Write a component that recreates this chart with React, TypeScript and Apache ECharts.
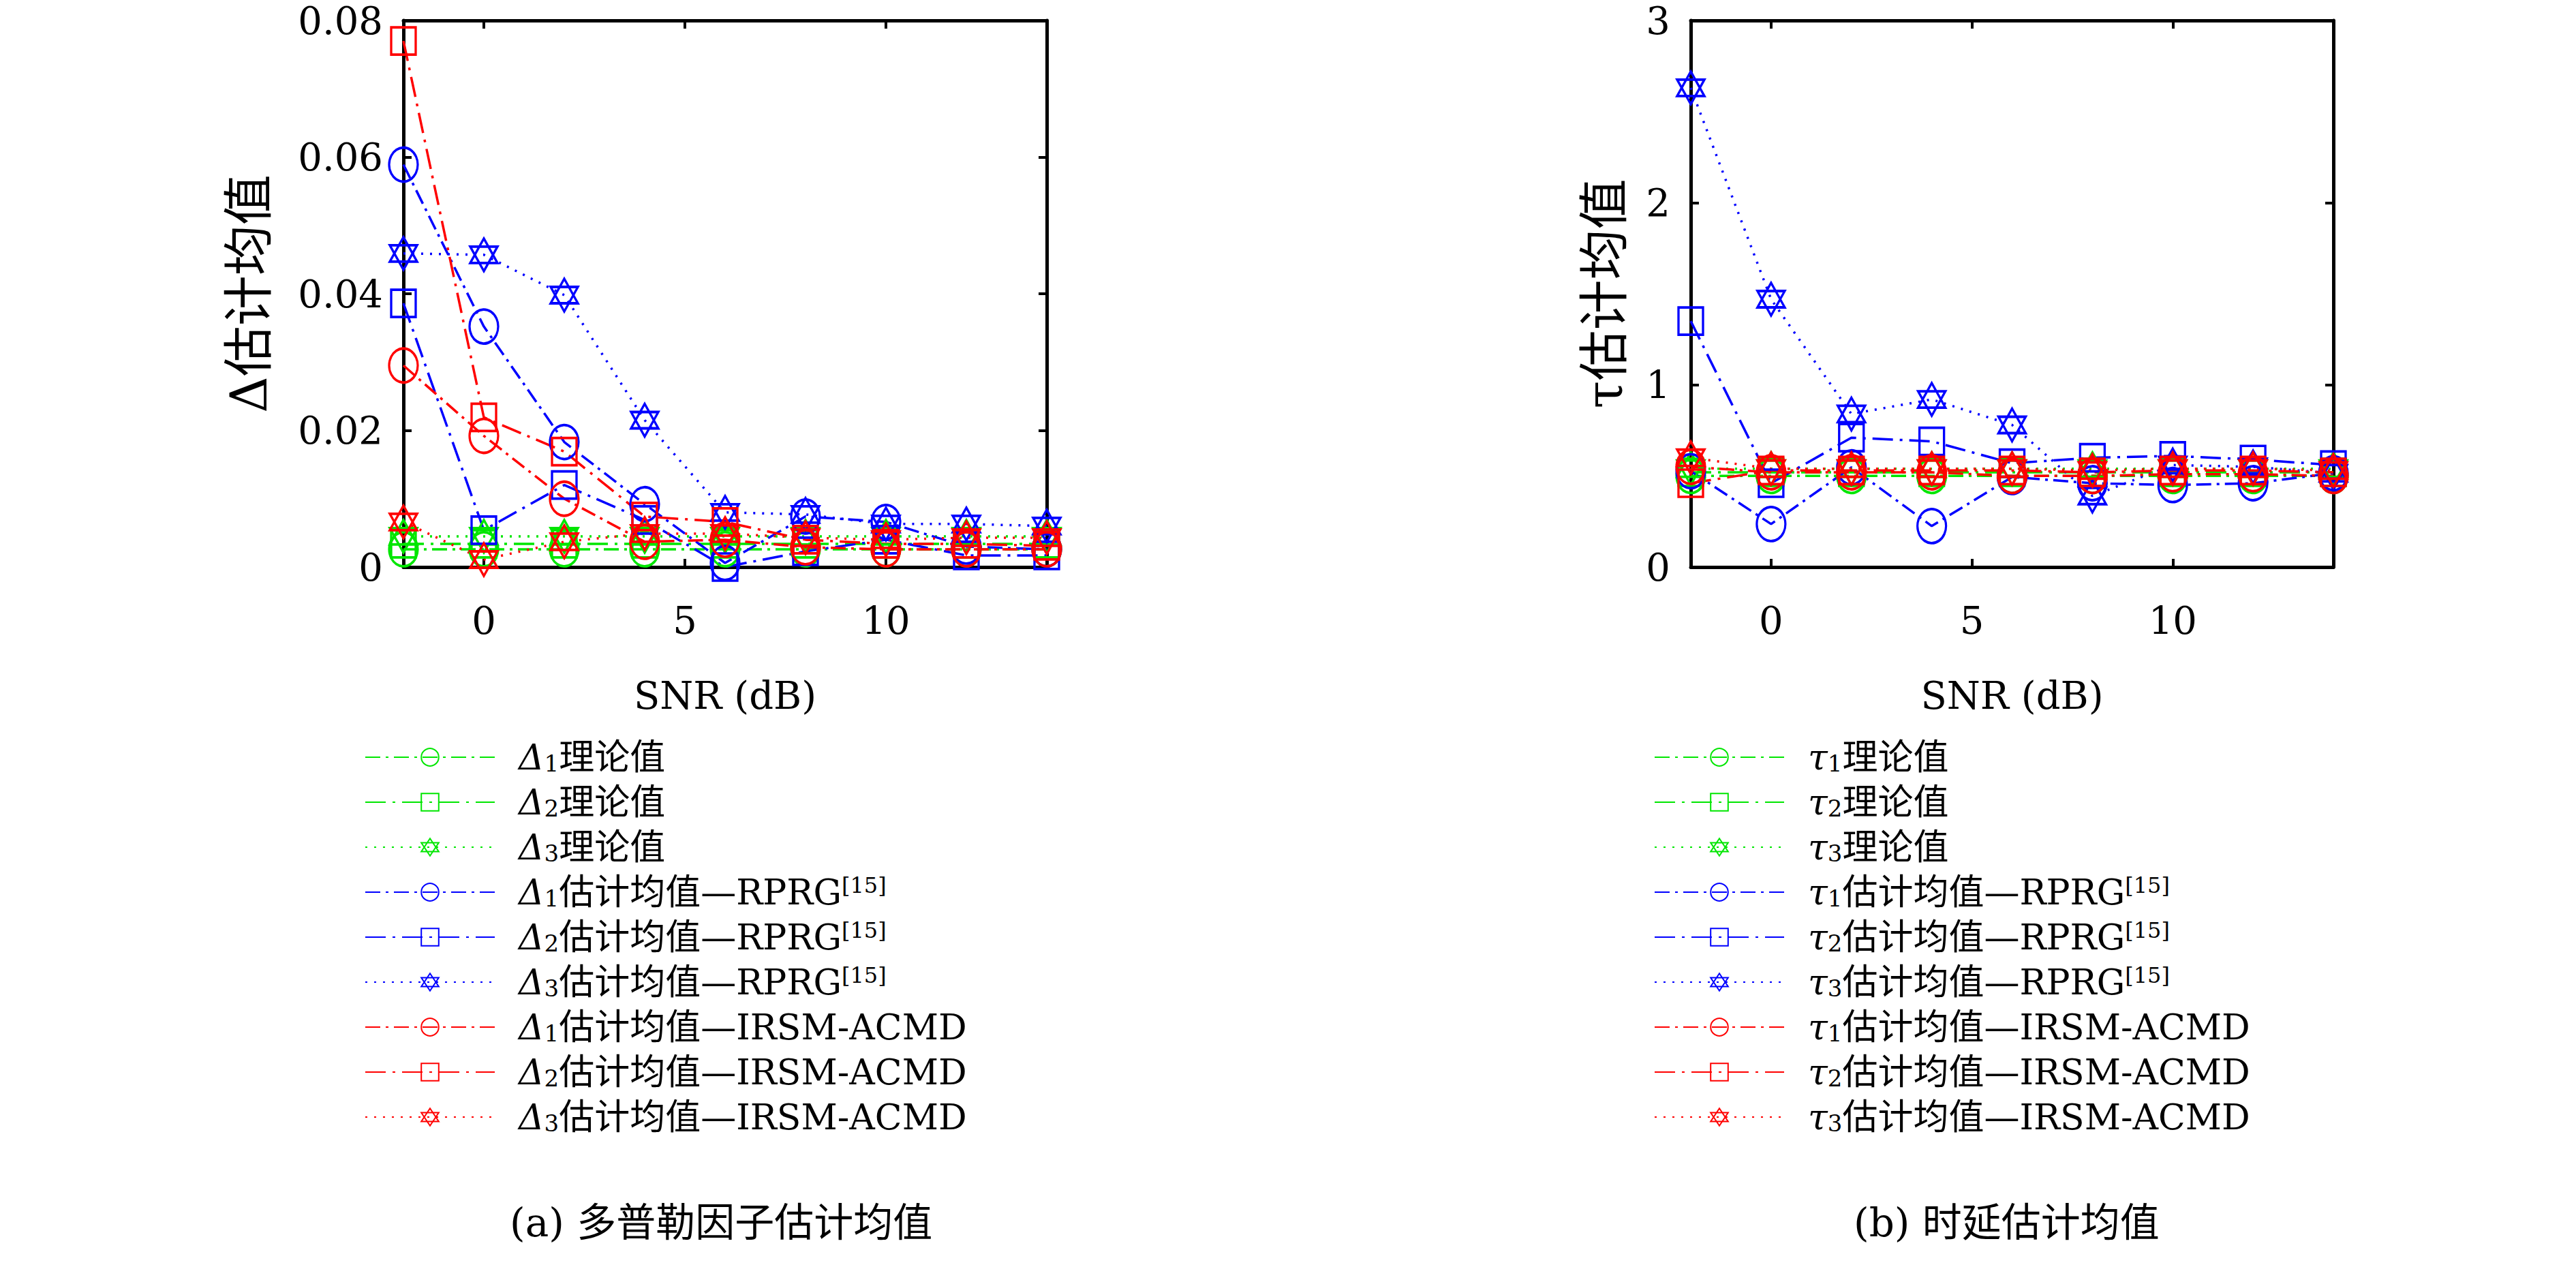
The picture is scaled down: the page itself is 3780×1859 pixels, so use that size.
import { useEffect, useRef } from 'react';
import * as echarts from 'echarts';

const snr = [-2, 0, 2, 4, 6, 8, 10, 12, 14];

// Doppler factor (a)
const dTheory1 = [0.0026, 0.0026, 0.0026, 0.0026, 0.0026, 0.0026, 0.0026, 0.0026, 0.0026];
const dTheory2 = [0.0034, 0.0034, 0.0034, 0.0034, 0.0034, 0.0034, 0.0034, 0.0034, 0.0034];
const dTheory3 = [0.0045, 0.0045, 0.0045, 0.0045, 0.0045, 0.0045, 0.0045, 0.0045, 0.0045];
const dRprg1 = [0.0589, 0.0352, 0.0183, 0.0092, 0.0006, 0.0074, 0.0066, 0.003, 0.0026];
const dRprg2 = [0.0386, 0.0054, 0.012, 0.0069, 0.0, 0.0023, 0.004, 0.0017, 0.0017];
const dRprg3 = [0.0459, 0.0457, 0.0398, 0.0215, 0.008, 0.0077, 0.0063, 0.0063, 0.006];
const dIrsm1 = [0.0295, 0.0192, 0.01, 0.0037, 0.004, 0.0029, 0.0026, 0.0026, 0.0026];
const dIrsm2 = [0.077, 0.0219, 0.0169, 0.0074, 0.0066, 0.004, 0.0034, 0.0034, 0.0031];
const dIrsm3 = [0.0066, 0.0011, 0.0037, 0.0049, 0.0049, 0.0043, 0.004, 0.0043, 0.0043];

// Time delay (b)
const tTheory1 = [0.5, 0.5, 0.5, 0.5, 0.5, 0.5, 0.5, 0.5, 0.5];
const tTheory2 = [0.52, 0.52, 0.52, 0.52, 0.52, 0.52, 0.52, 0.52, 0.52];
const tTheory3 = [0.54, 0.54, 0.54, 0.54, 0.54, 0.54, 0.54, 0.54, 0.54];
const tRprg1 = [0.526, 0.236, 0.547, 0.225, 0.494, 0.46, 0.45, 0.46, 0.515];
const tRprg2 = [1.35, 0.46, 0.71, 0.69, 0.57, 0.6, 0.61, 0.59, 0.56];
const tRprg3 = [2.63, 1.47, 0.84, 0.92, 0.78, 0.39, 0.56, 0.55, 0.515];
const tIrsm1 = [0.55, 0.52, 0.52, 0.52, 0.5, 0.5, 0.51, 0.51, 0.5];
const tIrsm2 = [0.46, 0.53, 0.53, 0.53, 0.53, 0.52, 0.53, 0.53, 0.52];
const tIrsm3 = [0.6, 0.54, 0.54, 0.54, 0.54, 0.53, 0.54, 0.54, 0.53];

const GREEN = '#00e600';
const BLUE = '#0000ff';
const RED = '#ff0000';
const HEX = 'path://M0,-100L86.6,50L-86.6,50ZM0,100L86.6,-50L-86.6,-50Z';
const FONT = '"DejaVu Serif", "Noto Sans CJK SC", serif';

const markers = [
  { symbol: 'circle', size: [42, 50], dash: [22, 8, 4, 8] },
  { symbol: 'rect', size: [36, 40], dash: [30, 10, 4, 10] },
  { symbol: HEX, size: [40, 48], dash: [3, 10] },
];

function mk(name: string, data: number[], color: string, k: number, axis: number) {
  const m = markers[k];
  return {
    name,
    type: 'line',
    xAxisIndex: axis,
    yAxisIndex: axis,
    data: snr.map((x, i) => [x, data[i]]),
    color,
    symbol: m.symbol,
    symbolSize: m.size,
    symbolKeepAspect: false,
    itemStyle: { color: 'rgba(0,0,0,0)', borderColor: color, borderWidth: 3.5 },
    lineStyle: { color, width: 3.5, type: m.dash },
  };
}

function legendName(sym: string, i: number, kind: number) {
  const head = `{g|${sym}}{sub|${i}}`;
  if (kind === 0) return `${head}{t|理论值}`;
  if (kind === 1) return `${head}{t|估计均值—RPRG}{sup|[15]}`;
  return `${head}{t|估计均值—IRSM-ACMD}`;
}

function buildSide(sym: string, axis: number, sets: number[][]) {
  const colors = [GREEN, BLUE, RED];
  const out: any[] = [];
  for (let kind = 0; kind < 3; kind++) {
    for (let i = 0; i < 3; i++) {
      out.push(mk(sym + (i + 1) + '-' + kind, sets[kind * 3 + i], colors[kind], i, axis));
    }
  }
  return out;
}

const rich = {
  g: { fontFamily: FONT, fontStyle: 'italic', fontSize: 52, color: '#000' },
  sub: { fontFamily: FONT, fontSize: 34, color: '#000', verticalAlign: 'bottom', padding: [18, 0, 0, 0] },
  sup: { fontFamily: FONT, fontSize: 32, color: '#000', verticalAlign: 'top', padding: [0, 0, 20, 0] },
  t: { fontFamily: FONT, fontSize: 52, color: '#000' },
};

export default function App() {
  const ref = useRef<HTMLDivElement>(null);

  useEffect(() => {
    document.body.style.margin = '0';
    if (!ref.current) return;
    const chart = echarts.init(ref.current, null, { renderer: 'svg' });

    const leftSeries = buildSide('Δ', 0, [dTheory1, dTheory2, dTheory3, dRprg1, dRprg2, dRprg3, dIrsm1, dIrsm2, dIrsm3]);
    const rightSeries = buildSide('τ', 2, [tTheory1, tTheory2, tTheory3, tRprg1, tRprg2, tRprg3, tIrsm1, tIrsm2, tIrsm3]);

    const axisLine = { show: true, onZero: false, lineStyle: { color: '#000', width: 5 } };
    const tickStyle = { inside: true, length: 12, lineStyle: { color: '#000', width: 4 } };
    const label = { color: '#000', fontFamily: FONT, fontSize: 56 };

    const xBase = (grid: number, pos: string, labels: boolean) => ({
      type: 'value',
      gridIndex: grid,
      position: pos,
      min: -2,
      max: 14,
      axisLine,
      axisTick: { ...tickStyle, customValues: [0, 5, 10] },
      axisLabel: labels ? { ...label, margin: 50, customValues: [0, 5, 10] } : { show: false },
      splitLine: { show: false },
      name: labels ? 'SNR (dB)' : '',
      nameLocation: 'middle',
      nameGap: 160,
      nameTextStyle: { ...label },
    });
    const yBase = (grid: number, pos: string, max: number, step: number, name: string) => ({
      type: 'value',
      gridIndex: grid,
      position: pos,
      min: 0,
      max,
      interval: step,
      axisLine,
      axisTick: tickStyle,
      axisLabel: name ? { ...label, margin: 30 } : { show: false },
      splitLine: { show: false },
      name,
      nameLocation: 'middle',
      nameGap: name.startsWith('Δ') ? 190 : 90,
      nameTextStyle: { ...label, fontSize: 74 },
    });

    const legendCommon = {
      orient: 'vertical',
      itemWidth: 190,
      itemHeight: 32,
      itemGap: 14,
      textStyle: { fontFamily: FONT, fontSize: 52, color: '#000', rich, padding: [0, 0, 0, 30] },
      formatter: (n: string) => {
        const [s, kind] = n.split('-');
        return legendName(s[0], Number(s.slice(1)), Number(kind));
      },
    };

    chart.setOption({
      animation: false,
      backgroundColor: '#fff',
      grid: [
        { left: 592, width: 944, top: 30, height: 802 },
        { left: 2481, width: 943, top: 30, height: 802 },
      ],
      xAxis: [xBase(0, 'bottom', true), xBase(0, 'top', false), xBase(1, 'bottom', true), xBase(1, 'top', false)],
      yAxis: [
        yBase(0, 'left', 0.08, 0.02, 'Δ估计均值'),
        yBase(0, 'right', 0.08, 0.02, ''),
        yBase(1, 'left', 3, 1, 'τ估计均值'),
        yBase(1, 'right', 3, 1, ''),
      ],
      legend: [
        { ...legendCommon, left: 530, top: 1080, data: leftSeries.map((s) => s.name) },
        { ...legendCommon, left: 2422, top: 1080, data: rightSeries.map((s) => s.name) },
      ],
      graphic: [
        { type: 'text', left: 748, top: 1765, style: { text: '(a) 多普勒因子估计均值', font: `58px ${FONT}`, fill: '#000' } },
        { type: 'text', left: 2720, top: 1765, style: { text: '(b) 时延估计均值', font: `58px ${FONT}`, fill: '#000' } },
      ],
      series: [...leftSeries, ...rightSeries],
    });

    return () => chart.dispose();
  }, []);

  return <div ref={ref} style={{ width: 3780, height: 1859 }} />;
}
